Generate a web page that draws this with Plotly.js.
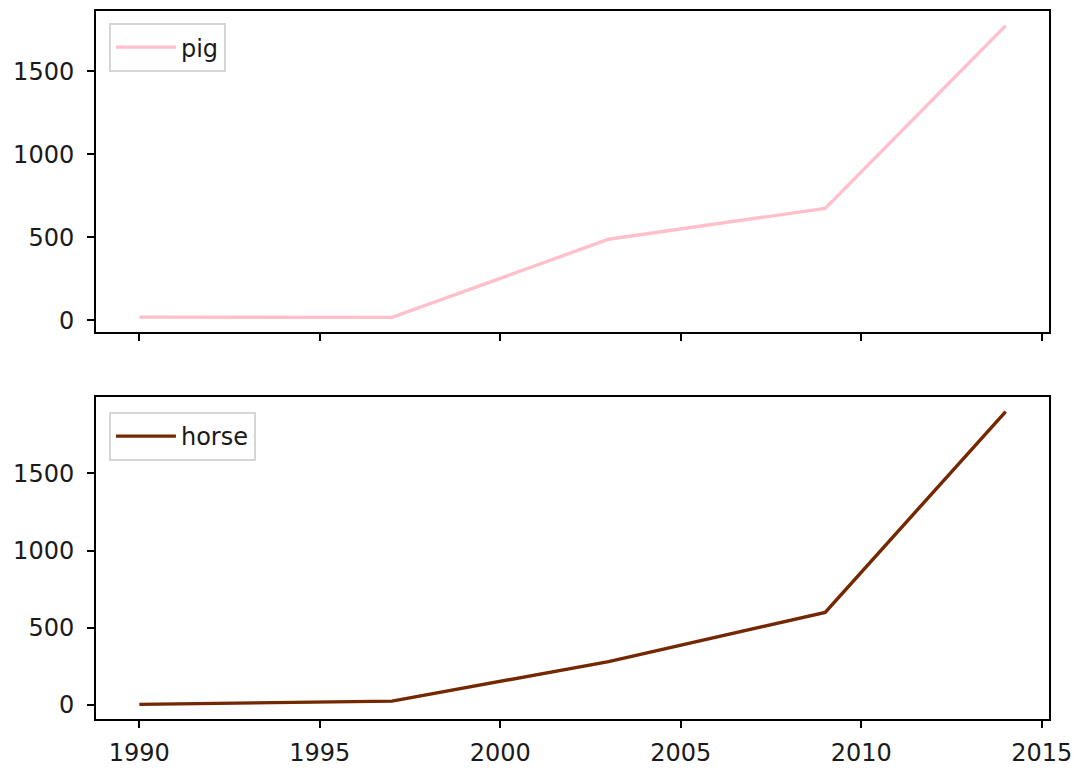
<!DOCTYPE html>
<html>
<head>
<meta charset="utf-8">
<script src="https://cdn.plot.ly/plotly-3.0.1.min.js"></script>
<style>html,body{margin:0;padding:0;background:#fff;}#chart{width:1081px;height:768px;}</style>
</head>
<body>
<div id="chart"></div>
<script>
const years = [1990, 1997, 2003, 2009, 2014];
const pig = [20, 18, 489, 675, 1776];
const horse = [4, 25, 281, 600, 1900];
const seriesNames = ["pig", "horse"];
const seriesColors = ["pink", "#742802"];

function padRange(arr) {
  const mn = Math.min(...arr), mx = Math.max(...arr);
  const m = (mx - mn) * 0.05;
  return [mn - m, mx + m];
}

const font = {family: "DejaVu Sans, sans-serif", size: 24, color: "#1a1a1a"};
const axisCommon = {
  showline: true, mirror: true, linecolor: "#000", linewidth: 2,
  ticks: "outside", ticklen: 7, tickwidth: 2, tickcolor: "#000",
  showgrid: false, zeroline: false, tickfont: font
};

const traces = [
  {x: years, y: pig, type: "scatter", mode: "lines", name: seriesNames[0],
   line: {color: seriesColors[0], width: 3.4}, xaxis: "x", yaxis: "y", legend: "legend"},
  {x: years, y: horse, type: "scatter", mode: "lines", name: seriesNames[1],
   line: {color: seriesColors[1], width: 3.4}, xaxis: "x2", yaxis: "y2", legend: "legend2"}
];

const legendCommon = {
  xanchor: "left", yanchor: "top", bgcolor: "rgba(255,255,255,0.8)",
  bordercolor: "#d6d6d6", borderwidth: 2, font: font, itemwidth: 60
};

const layout = {
  width: 1081, height: 768,
  margin: {l: 96, r: 32, t: 11, b: 49},
  paper_bgcolor: "#fff", plot_bgcolor: "#fff",
  showlegend: true,
  xaxis: Object.assign({}, axisCommon, {domain: [0, 1], anchor: "y", range: padRange(years), dtick: 5, tick0: 1990, showticklabels: false}),
  yaxis: Object.assign({}, axisCommon, {domain: [0.5466, 1], anchor: "x", range: padRange(pig), dtick: 500, tick0: 0, ticklabelstandoff: 8}),
  xaxis2: Object.assign({}, axisCommon, {domain: [0, 1], anchor: "y2", range: padRange(years), dtick: 5, tick0: 1990, ticklabelstandoff: 4}),
  yaxis2: Object.assign({}, axisCommon, {domain: [0, 0.4548], anchor: "x2", range: padRange(horse), dtick: 500, tick0: 0, ticklabelstandoff: 8}),
  legend: Object.assign({}, legendCommon, {x: 0.0136, y: 0.983}),
  legend2: Object.assign({}, legendCommon, {x: 0.0136, y: 0.4336})
};

Plotly.newPlot("chart", traces, layout, {displayModeBar: false, staticPlot: true});
</script>
</body>
</html>
